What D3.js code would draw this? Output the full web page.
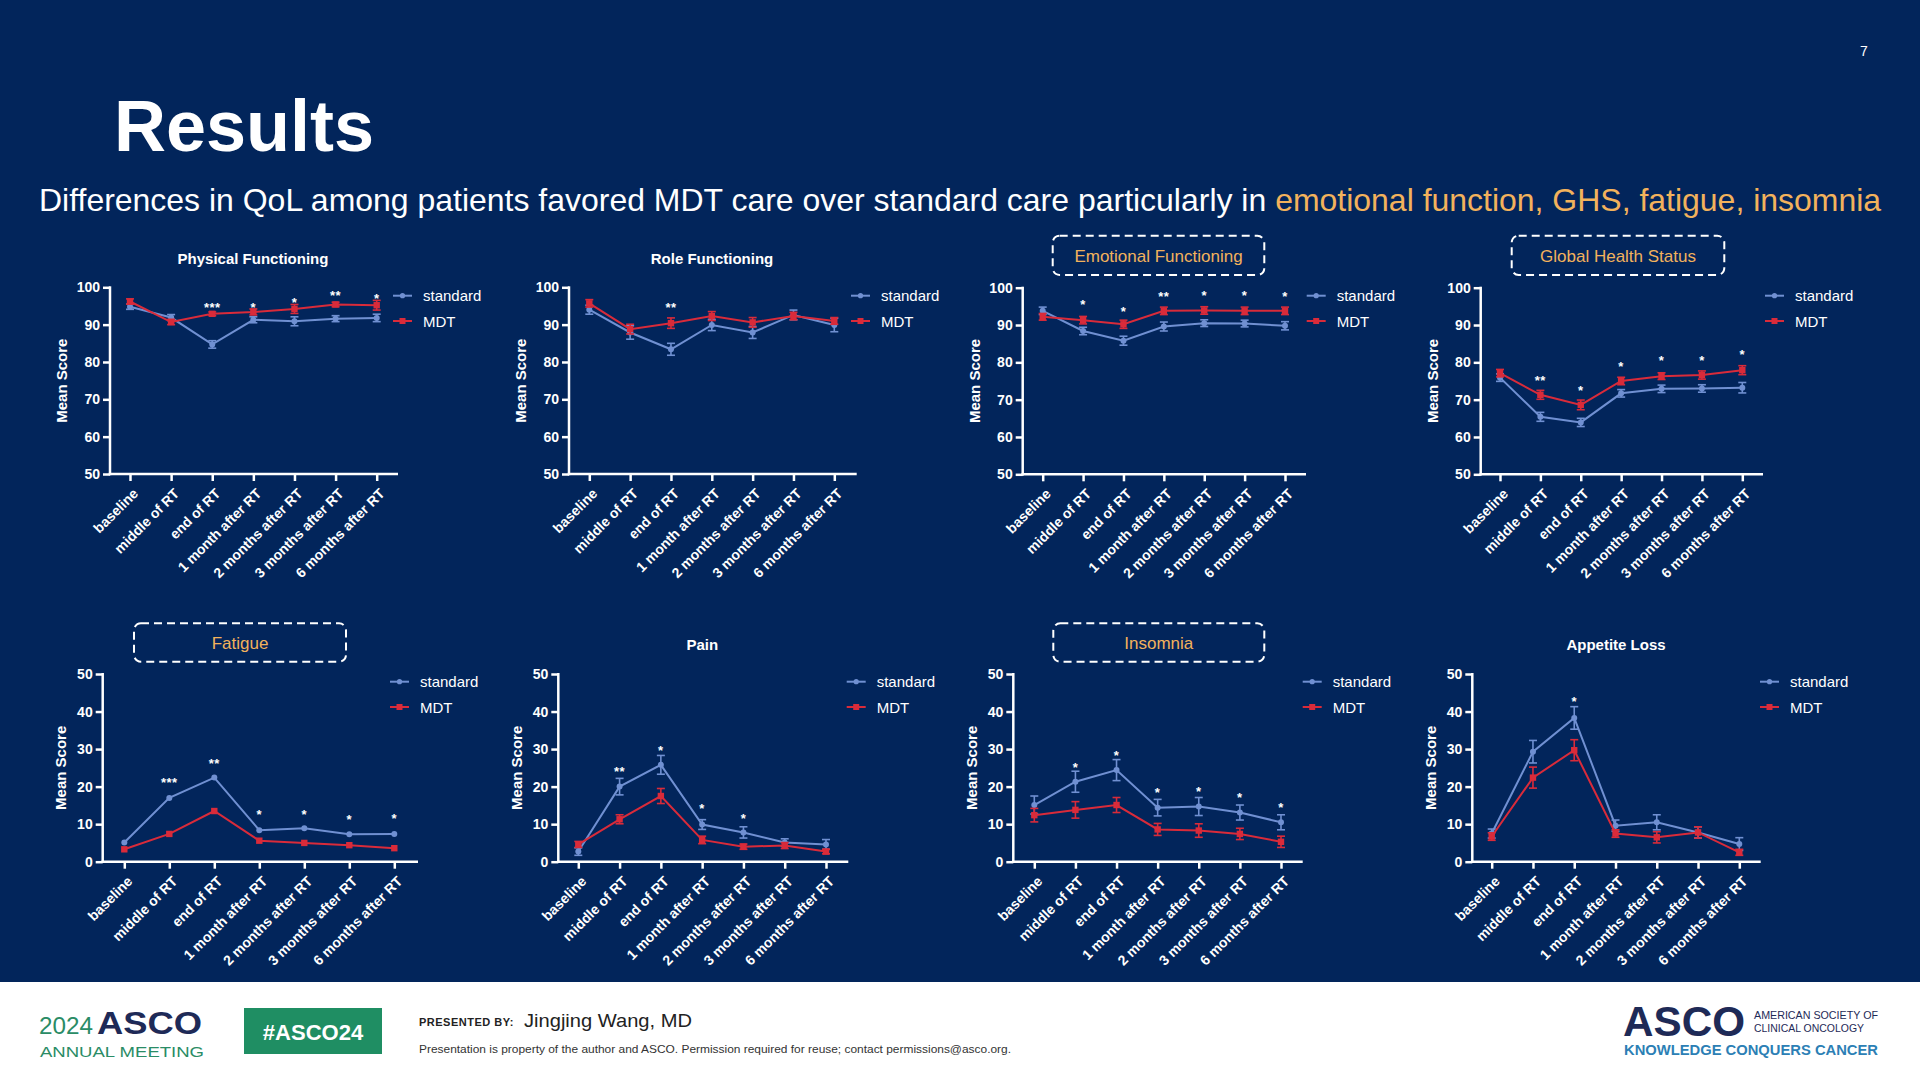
<!DOCTYPE html>
<html>
<head>
<meta charset="utf-8">
<script src="https://cdn.jsdelivr.net/npm/d3@7"></script>
<style>
  html, body { margin: 0; padding: 0; background: #02255B; }
  svg { display: block; }
  text { font-family: "Liberation Sans", Arial, Helvetica, sans-serif; }
</style>
</head>
<body>
<svg id="chart" width="1920" height="1080"></svg>
<script>
// ---------------- DATA ----------------
const timepoints = ["baseline", "middle of RT", "end of RT", "1 month after RT",
  "2 months after RT", "3 months after RT", "6 months after RT"];
const seriesNames = ["standard", "MDT"];
const panelTitles = ["Physical Functioning", "Role Functioning", "Emotional Functioning",
  "Global Health Status", "Fatigue", "Pain", "Insomnia", "Appetite Loss"];
const highlighted = [false, false, true, true, true, false, true, false];
const yTicksFunction = [50, 60, 70, 80, 90, 100];
const yTicksSymptom = [0, 10, 20, 30, 40, 50];

// Physical Functioning
const pfStandard = [94.8, 91.9, 84.7, 91.3, 90.9, 91.6, 91.8];
const pfStandardErr = [0.7, 0.8, 1.0, 0.8, 1.2, 0.8, 1.0];
const pfMdt = [96.2, 90.7, 92.9, 93.4, 94.2, 95.4, 95.2];
const pfMdtErr = [0.7, 0.7, 0.5, 0.8, 1.2, 0.6, 1.3];
const pfSig = ["", "", "***", "*", "*", "**", "*"];
const pfSigY = [null, null, 95.5, 95.4, 96.6, 98.6, 97.7];

// Role Functioning
const rfStandard = [94.0, 87.9, 83.4, 89.9, 87.9, 92.6, 89.9];
const rfStandardErr = [1.2, 1.8, 1.6, 1.5, 1.6, 1.3, 1.8];
const rfMdt = [95.7, 88.8, 90.4, 92.3, 90.6, 92.3, 91.0];
const rfMdtErr = [1.0, 1.3, 1.4, 1.2, 1.3, 1.0, 0.9];
const rfSig = ["", "", "**", "", "", "", ""];
const rfSigY = [null, null, 95.3, null, null, null, null];

// Emotional Functioning
const efStandard = [93.8, 88.4, 85.8, 89.6, 90.5, 90.4, 89.8];
const efStandardErr = [1.0, 1.0, 1.2, 1.2, 0.9, 0.9, 1.1];
const efMdt = [92.2, 91.3, 90.2, 93.8, 93.9, 93.8, 93.8];
const efMdtErr = [0.9, 1.0, 1.1, 1.0, 1.0, 1.0, 1.0];
const efSig = ["", "*", "*", "**", "*", "*", "*"];
const efSigY = [null, 96.3, 94.5, 98.5, 98.7, 98.7, 98.5];

// Global Health Status
const ghsStandard = [75.9, 65.4, 63.9, 71.7, 72.9, 73.0, 73.2];
const ghsStandardErr = [1.0, 1.2, 1.1, 1.0, 1.0, 1.0, 1.4];
const ghsMdt = [77.1, 71.3, 68.6, 75.0, 76.3, 76.6, 77.9];
const ghsMdtErr = [1.0, 1.2, 1.3, 1.0, 0.9, 1.1, 1.2];
const ghsSig = ["", "**", "*", "*", "*", "*", "*"];
const ghsSigY = [null, 75.9, 73.3, 79.7, 81.3, 81.4, 82.9];

// Fatigue
const faStandard = [5.1, 17.0, 22.4, 8.4, 8.9, 7.3, 7.4];
const faStandardErr = [0, 0, 0, 0, 0, 0, 0];
const faMdt = [3.3, 7.4, 13.5, 5.6, 5.0, 4.4, 3.6];
const faMdtErr = [0, 0, 0, 0, 0, 0, 0];
const faSig = ["", "***", "**", "*", "*", "*", "*"];
const faSigY = [null, 21.8, 26.9, 13.3, 13.3, 12.0, 12.2];

// Pain
const paStandard = [2.7, 20.0, 25.8, 9.9, 7.8, 5.1, 4.6];
const paStandardErr = [1.0, 2.2, 2.5, 1.3, 1.5, 1.0, 1.3];
const paMdt = [4.6, 11.3, 17.5, 5.8, 4.0, 4.3, 2.7];
const paMdtErr = [0.8, 1.2, 2.0, 1.0, 0.7, 0.8, 0.6];
const paSig = ["", "**", "*", "*", "*", "", ""];
const paSigY = [null, 24.9, 30.5, 15.1, 12.4, null, null];

// Insomnia
const inStandard = [15.1, 21.3, 24.4, 14.4, 14.7, 13.1, 10.5];
const inStandardErr = [2.4, 2.8, 2.8, 2.2, 2.4, 2.0, 2.0];
const inMdt = [12.4, 13.8, 15.1, 8.6, 8.3, 7.4, 5.3];
const inMdtErr = [1.8, 2.2, 2.0, 1.6, 1.8, 1.5, 1.5];
const inSig = ["", "*", "*", "*", "*", "*", "*"];
const inSigY = [null, 26.0, 29.0, 19.3, 19.6, 17.8, 15.3];

// Appetite Loss
const alStandard = [7.5, 29.3, 38.3, 9.6, 10.5, 7.8, 4.7];
const alStandardErr = [1.2, 3.0, 3.0, 1.5, 2.0, 1.5, 1.7];
const alMdt = [6.7, 22.4, 29.7, 7.5, 6.5, 7.8, 2.5];
const alMdtErr = [1.0, 2.8, 2.8, 1.0, 1.5, 1.5, 0.8];
const alSig = ["", "", "*", "", "", "", ""];
const alSigY = [null, null, 43.5, null, null, null, null];

// ---------------- BUILD ----------------
const panels = [
  {std: pfStandard, stdErr: pfStandardErr, mdt: pfMdt, mdtErr: pfMdtErr, sig: pfSig, sigY: pfSigY, ticks: yTicksFunction},
  {std: rfStandard, stdErr: rfStandardErr, mdt: rfMdt, mdtErr: rfMdtErr, sig: rfSig, sigY: rfSigY, ticks: yTicksFunction},
  {std: efStandard, stdErr: efStandardErr, mdt: efMdt, mdtErr: efMdtErr, sig: efSig, sigY: efSigY, ticks: yTicksFunction},
  {std: ghsStandard, stdErr: ghsStandardErr, mdt: ghsMdt, mdtErr: ghsMdtErr, sig: ghsSig, sigY: ghsSigY, ticks: yTicksFunction},
  {std: faStandard, stdErr: faStandardErr, mdt: faMdt, mdtErr: faMdtErr, sig: faSig, sigY: faSigY, ticks: yTicksSymptom},
  {std: paStandard, stdErr: paStandardErr, mdt: paMdt, mdtErr: paMdtErr, sig: paSig, sigY: paSigY, ticks: yTicksSymptom},
  {std: inStandard, stdErr: inStandardErr, mdt: inMdt, mdtErr: inMdtErr, sig: inSig, sigY: inSigY, ticks: yTicksSymptom},
  {std: alStandard, stdErr: alStandardErr, mdt: alMdt, mdtErr: alMdtErr, sig: alSig, sigY: alSigY, ticks: yTicksSymptom}
];

// layout (pixel geometry of each small chart)
const layout = [
  {ax: 110,    x0: 130,    x1: 376.7,  xe: 398,    yt: 287.3, yb: 474,   tx: 253,    ty: 259,   lx: 393,    ly: 295.7, lab: 48},
  {ax: 569,    x0: 589.3,  x1: 834.3,  xe: 856.7,  yt: 287.3, yb: 474,   tx: 712,    ty: 259,   lx: 851,    ly: 295.7, lab: 48},
  {ax: 1022.7, x0: 1042.7, x1: 1285,   xe: 1306,   yt: 287.7, yb: 474.3, tx: 1158.5, ty: 255.5, lx: 1306.7, ly: 295.7, lab: 48, box: [1052.7, 235.7, 1264.3, 275]},
  {ax: 1480.7, x0: 1500,   x1: 1742.3, xe: 1763,   yt: 287.7, yb: 474.3, tx: 1618,   ty: 255.5, lx: 1765,   ly: 295.7, lab: 48, box: [1511.7, 235.7, 1724.3, 275]},
  {ax: 102.7,  x0: 124.3,  x1: 394.3,  xe: 418,    yt: 674,   yb: 861.7, tx: 240,    ty: 642.5, lx: 390,    ly: 681.7, lab: 42, box: [134, 623.3, 346, 661.7]},
  {ax: 558.3,  x0: 578.3,  x1: 826,    xe: 848.3,  yt: 674,   yb: 861.7, tx: 702.3,  ty: 645,   lx: 846.7,  ly: 681.7, lab: 42},
  {ax: 1013.3, x0: 1034.3, x1: 1281,   xe: 1302.7, yt: 674,   yb: 861.7, tx: 1158.8, ty: 642.5, lx: 1302.7, ly: 681.7, lab: 42, box: [1053.3, 623.3, 1264.3, 661.7]},
  {ax: 1472.3, x0: 1491.7, x1: 1739.3, xe: 1760.7, yt: 674,   yb: 861.7, tx: 1616,   ty: 645,   lx: 1760,   ly: 681.7, lab: 42}
];

const BG = "#02255B";
const BLUE = "#7090D2";
const RED = "#D92B3A";
const ORANGE = "#F2B25C";
const WHITE = "#FFFFFF";

const svg = d3.select("#chart");
svg.append("rect").attr("width", 1920).attr("height", 1080).attr("fill", BG);

// header
svg.append("text").attr("x", 1864).attr("y", 56).attr("fill", WHITE)
  .attr("font-size", 14).attr("text-anchor", "middle").text("7");
svg.append("text").attr("x", 114).attr("y", 151).attr("fill", WHITE)
  .attr("font-size", 72).attr("font-weight", "bold").text("Results");
const sub = svg.append("text").attr("x", 39).attr("y", 211).attr("font-size", 29);
sub.append("tspan").attr("fill", WHITE)
  .text("Differences in QoL among patients favored MDT care over standard care particularly in ");
sub.append("tspan").attr("fill", ORANGE).text("emotional function, GHS, fatigue, insomnia");
{
  const w = sub.node().getComputedTextLength();
  sub.attr("font-size", 29 * 1843 / w);
}

panels.forEach((p, i) => {
  const L = layout[i];
  const g = svg.append("g");
  const x = d3.scalePoint().domain(timepoints).range([L.x0, L.x1]);
  const y = d3.scaleLinear().domain(d3.extent(p.ticks)).range([L.yb, L.yt]);

  // title
  if (highlighted[i]) {
    const [bx0, by0, bx1, by1] = L.box;
    g.append("rect").attr("x", bx0).attr("y", by0).attr("width", bx1 - bx0).attr("height", by1 - by0)
      .attr("rx", 7).attr("fill", "none").attr("stroke", WHITE).attr("stroke-width", 2)
      .attr("stroke-dasharray", "8,5");
    g.append("text").attr("x", L.tx).attr("y", L.ty + 6).attr("text-anchor", "middle")
      .attr("fill", ORANGE).attr("font-size", 17).text(panelTitles[i]);
  } else {
    g.append("text").attr("x", L.tx).attr("y", L.ty + 5).attr("text-anchor", "middle")
      .attr("fill", WHITE).attr("font-size", 15).attr("font-weight", "bold").text(panelTitles[i]);
  }

  // y axis
  const yAxis = g.append("g").attr("transform", `translate(${L.ax},0)`)
    .call(d3.axisLeft(y).tickValues(p.ticks).tickSize(7).tickPadding(3).tickSizeOuter(0));
  yAxis.select(".domain").remove();
  yAxis.selectAll(".tick line").attr("stroke", WHITE).attr("stroke-width", 2.5);
  yAxis.selectAll(".tick text").attr("fill", WHITE).attr("font-size", 14).attr("font-weight", "bold")
    .attr("font-family", "'Liberation Sans', Arial, sans-serif");
  g.append("line").attr("x1", L.ax).attr("x2", L.ax).attr("y1", y(d3.max(p.ticks)) - 1).attr("y2", L.yb + 1.25)
    .attr("stroke", WHITE).attr("stroke-width", 2.5);

  // x axis
  const xAxis = g.append("g").attr("transform", `translate(0,${L.yb})`)
    .call(d3.axisBottom(x).tickSize(7).tickSizeOuter(0));
  xAxis.select(".domain").remove();
  xAxis.selectAll(".tick line").attr("stroke", WHITE).attr("stroke-width", 2.5);
  xAxis.selectAll(".tick text").attr("fill", WHITE).attr("font-size", 14).attr("font-weight", "bold")
    .attr("font-family", "'Liberation Sans', Arial, sans-serif")
    .attr("x", 0).attr("y", 0).attr("dy", "0.35em").attr("text-anchor", "end")
    .attr("transform", "translate(5,17) rotate(-45)");
  g.append("line").attr("x1", L.ax - 1.25).attr("x2", L.xe).attr("y1", L.yb).attr("y2", L.yb)
    .attr("stroke", WHITE).attr("stroke-width", 2.5);

  // y label
  g.append("text").attr("transform", `translate(${L.ax - L.lab},${(L.yt + L.yb) / 2}) rotate(-90)`)
    .attr("text-anchor", "middle").attr("dy", "0.35em").attr("fill", WHITE)
    .attr("font-size", 15).attr("font-weight", "bold").text("Mean Score");

  const series = [
    {vals: p.std, errs: p.stdErr, color: BLUE, shape: "circle"},
    {vals: p.mdt, errs: p.mdtErr, color: RED, shape: "square"}
  ];
  const line = d3.line().x((d, j) => x(timepoints[j])).y(d => y(d));
  series.forEach(s => {
    const sg = g.append("g");
    // error bars
    s.vals.forEach((v, j) => {
      const e = s.errs[j];
      if (!e) return;
      const cx = x(timepoints[j]);
      sg.append("line").attr("x1", cx).attr("x2", cx).attr("y1", y(v - e)).attr("y2", y(v + e))
        .attr("stroke", s.color).attr("stroke-width", 1.6);
      [v - e, v + e].forEach(c => sg.append("line").attr("x1", cx - 4).attr("x2", cx + 4)
        .attr("y1", y(c)).attr("y2", y(c)).attr("stroke", s.color).attr("stroke-width", 1.6));
    });
    sg.append("path").datum(s.vals).attr("d", line).attr("fill", "none")
      .attr("stroke", s.color).attr("stroke-width", 2);
    s.vals.forEach((v, j) => {
      const cx = x(timepoints[j]);
      if (s.shape === "circle") {
        sg.append("circle").attr("cx", cx).attr("cy", y(v)).attr("r", 3).attr("fill", s.color);
      } else {
        sg.append("rect").attr("x", cx - 3.2).attr("y", y(v) - 3.2).attr("width", 6.4).attr("height", 6.4)
          .attr("fill", s.color);
      }
    });
  });

  // significance
  p.sig.forEach((s, j) => {
    if (!s) return;
    g.append("text").attr("x", x(timepoints[j])).attr("y", y(p.sigY[j]) + 7.5)
      .attr("text-anchor", "middle").attr("fill", WHITE).attr("font-size", 13).attr("font-weight", "bold")
      .attr("letter-spacing", 0.5).text(s);
  });

  // legend
  series.forEach((s, k) => {
    const ly = L.ly + k * 25.3;
    g.append("line").attr("x1", L.lx).attr("x2", L.lx + 19).attr("y1", ly).attr("y2", ly)
      .attr("stroke", s.color).attr("stroke-width", 2);
    if (s.shape === "circle") {
      g.append("circle").attr("cx", L.lx + 9.5).attr("cy", ly).attr("r", 2.6).attr("fill", s.color);
    } else {
      g.append("rect").attr("x", L.lx + 6.5).attr("y", ly - 3).attr("width", 6).attr("height", 6).attr("fill", s.color);
    }
    g.append("text").attr("x", L.lx + 30).attr("y", ly + 5.5).attr("fill", WHITE)
      .attr("font-size", 15).text(seriesNames[k]);
  });
});

// ---------------- FOOTER ----------------
svg.append("rect").attr("x", 0).attr("y", 982).attr("width", 1920).attr("height", 98).attr("fill", "#FFFFFF");
const GREEN = "#2A8C66";
const NAVY = "#1E2A57";
svg.append("text").attr("x", 39).attr("y", 1034).attr("font-size", 24).attr("fill", GREEN)
  .attr("textLength", 54).attr("lengthAdjust", "spacingAndGlyphs").text("2024");
svg.append("text").attr("x", 97).attr("y", 1034).attr("font-size", 32).attr("font-weight", "bold").attr("fill", NAVY)
  .attr("textLength", 105).attr("lengthAdjust", "spacingAndGlyphs").text("ASCO");
svg.append("text").attr("x", 40).attr("y", 1057).attr("font-size", 15.5).attr("fill", GREEN)
  .attr("textLength", 164).attr("lengthAdjust", "spacingAndGlyphs").text("ANNUAL MEETING");
svg.append("rect").attr("x", 244).attr("y", 1008).attr("width", 138).attr("height", 46).attr("fill", "#1F8E63");
svg.append("text").attr("x", 313).attr("y", 1040).attr("text-anchor", "middle").attr("fill", "#FFFFFF")
  .attr("font-size", 22).attr("font-weight", "bold").text("#ASCO24");
svg.append("text").attr("x", 419).attr("y", 1026).attr("font-size", 11).attr("font-weight", "bold")
  .attr("fill", "#222").attr("letter-spacing", 0.5).text("PRESENTED BY:");
svg.append("text").attr("x", 524).attr("y", 1027).attr("font-size", 19).attr("fill", "#222")
  .attr("textLength", 168).attr("lengthAdjust", "spacingAndGlyphs").text("Jingjing Wang, MD");
svg.append("text").attr("x", 419).attr("y", 1053).attr("font-size", 11).attr("fill", "#333")
  .attr("textLength", 592).attr("lengthAdjust", "spacingAndGlyphs")
  .text("Presentation is property of the author and ASCO. Permission required for reuse; contact permissions@asco.org.");
svg.append("text").attr("x", 1623).attr("y", 1036).attr("font-size", 42).attr("font-weight", "bold")
  .attr("fill", NAVY).attr("textLength", 122).attr("lengthAdjust", "spacingAndGlyphs").text("ASCO");
svg.append("text").attr("x", 1754).attr("y", 1019).attr("font-size", 11).attr("fill", NAVY)
  .attr("textLength", 124).attr("lengthAdjust", "spacingAndGlyphs").text("AMERICAN SOCIETY OF");
svg.append("text").attr("x", 1754).attr("y", 1032).attr("font-size", 11).attr("fill", NAVY)
  .attr("textLength", 110).attr("lengthAdjust", "spacingAndGlyphs").text("CLINICAL ONCOLOGY");
svg.append("text").attr("x", 1624).attr("y", 1055).attr("font-size", 14).attr("font-weight", "bold")
  .attr("fill", "#2C7FB5").attr("textLength", 254).attr("lengthAdjust", "spacingAndGlyphs")
  .text("KNOWLEDGE CONQUERS CANCER");
</script>
</body>
</html>
